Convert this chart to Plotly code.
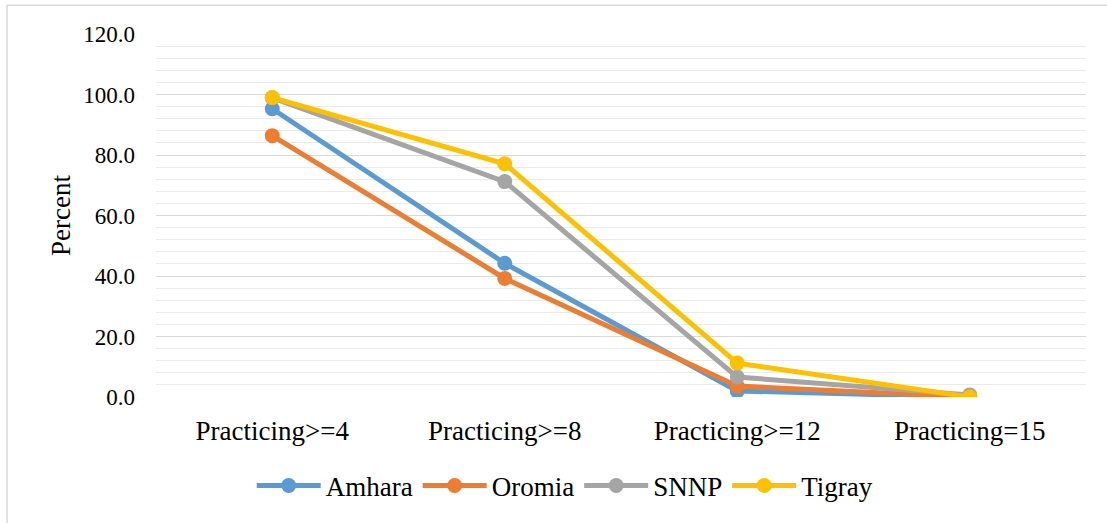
import plotly.graph_objects as go

categories = ["Practicing>=4", "Practicing>=8", "Practicing>=12", "Practicing=15"]
amhara = [95.3, 44.2, 2.0, 0.0]
oromia = [86.4, 39.2, 3.6, 0.0]
snnp = [98.9, 71.2, 6.6, 0.7]
tigray = [99.0, 77.1, 11.2, 0.0]

series = [
    ("Amhara", amhara, "#5b9bd5"),
    ("Oromia", oromia, "#ed7d31"),
    ("SNNP", snnp, "#a5a5a5"),
    ("Tigray", tigray, "#ffc000"),
]

W, H = 1107, 523
ml, mr, mt, mb = 156, 21, 34, 124
SERIF = "Liberation Serif"

fig = go.Figure()
for name, vals, color in series:
    fig.add_trace(go.Scatter(
        x=categories, y=vals, name=name, mode="lines+markers",
        line=dict(color=color, width=5),
        marker=dict(color=color, size=15),
    ))

fig.update_layout(
    width=W, height=H,
    margin=dict(l=ml, r=mr, t=mt, b=mb, pad=0),
    paper_bgcolor="white", plot_bgcolor="white",
    font=dict(family=SERIF, color="#000000", size=23),
    showlegend=True,
    legend=dict(orientation="h", x=0.44, xanchor="center", y=-0.245, yanchor="middle",
                font=dict(family=SERIF, size=27, color="#000000"),
                itemwidth=64, tracegroupgap=0),
    xaxis=dict(type="category", range=[-0.5, 3.5], showgrid=False, showline=False,
               zeroline=False, ticks="", ticklabelstandoff=15,
               tickfont=dict(family=SERIF, size=27, color="#000000")),
    yaxis=dict(range=[0, 120], dtick=20, tickformat=".1f", showgrid=True,
               gridcolor="#d9d9d9", gridwidth=1.3, zeroline=False, showline=False,
               ticks="", ticklen=0, ticklabelstandoff=20,
               tickfont=dict(family=SERIF, size=23, color="#000000"),
               minor=dict(dtick=4, showgrid=True, gridcolor="#ebebeb", gridwidth=1.3),
               title=dict(text="Percent", font=dict(family=SERIF, size=27, color="#000000"),
                          standoff=4)),
)

# chart frame (top and left edges visible)
fig.add_shape(type="rect", xref="paper", yref="paper",
              x0=(7 - ml) / (W - ml - mr), x1=(W + 5 - ml) / (W - ml - mr),
              y0=-(mb + 5) / (H - mt - mb), y1=(H - mb - 5) / (H - mt - mb),
              line=dict(color="#d9d9d9", width=1.5), layer="below")

fig.write_html("out.html")
